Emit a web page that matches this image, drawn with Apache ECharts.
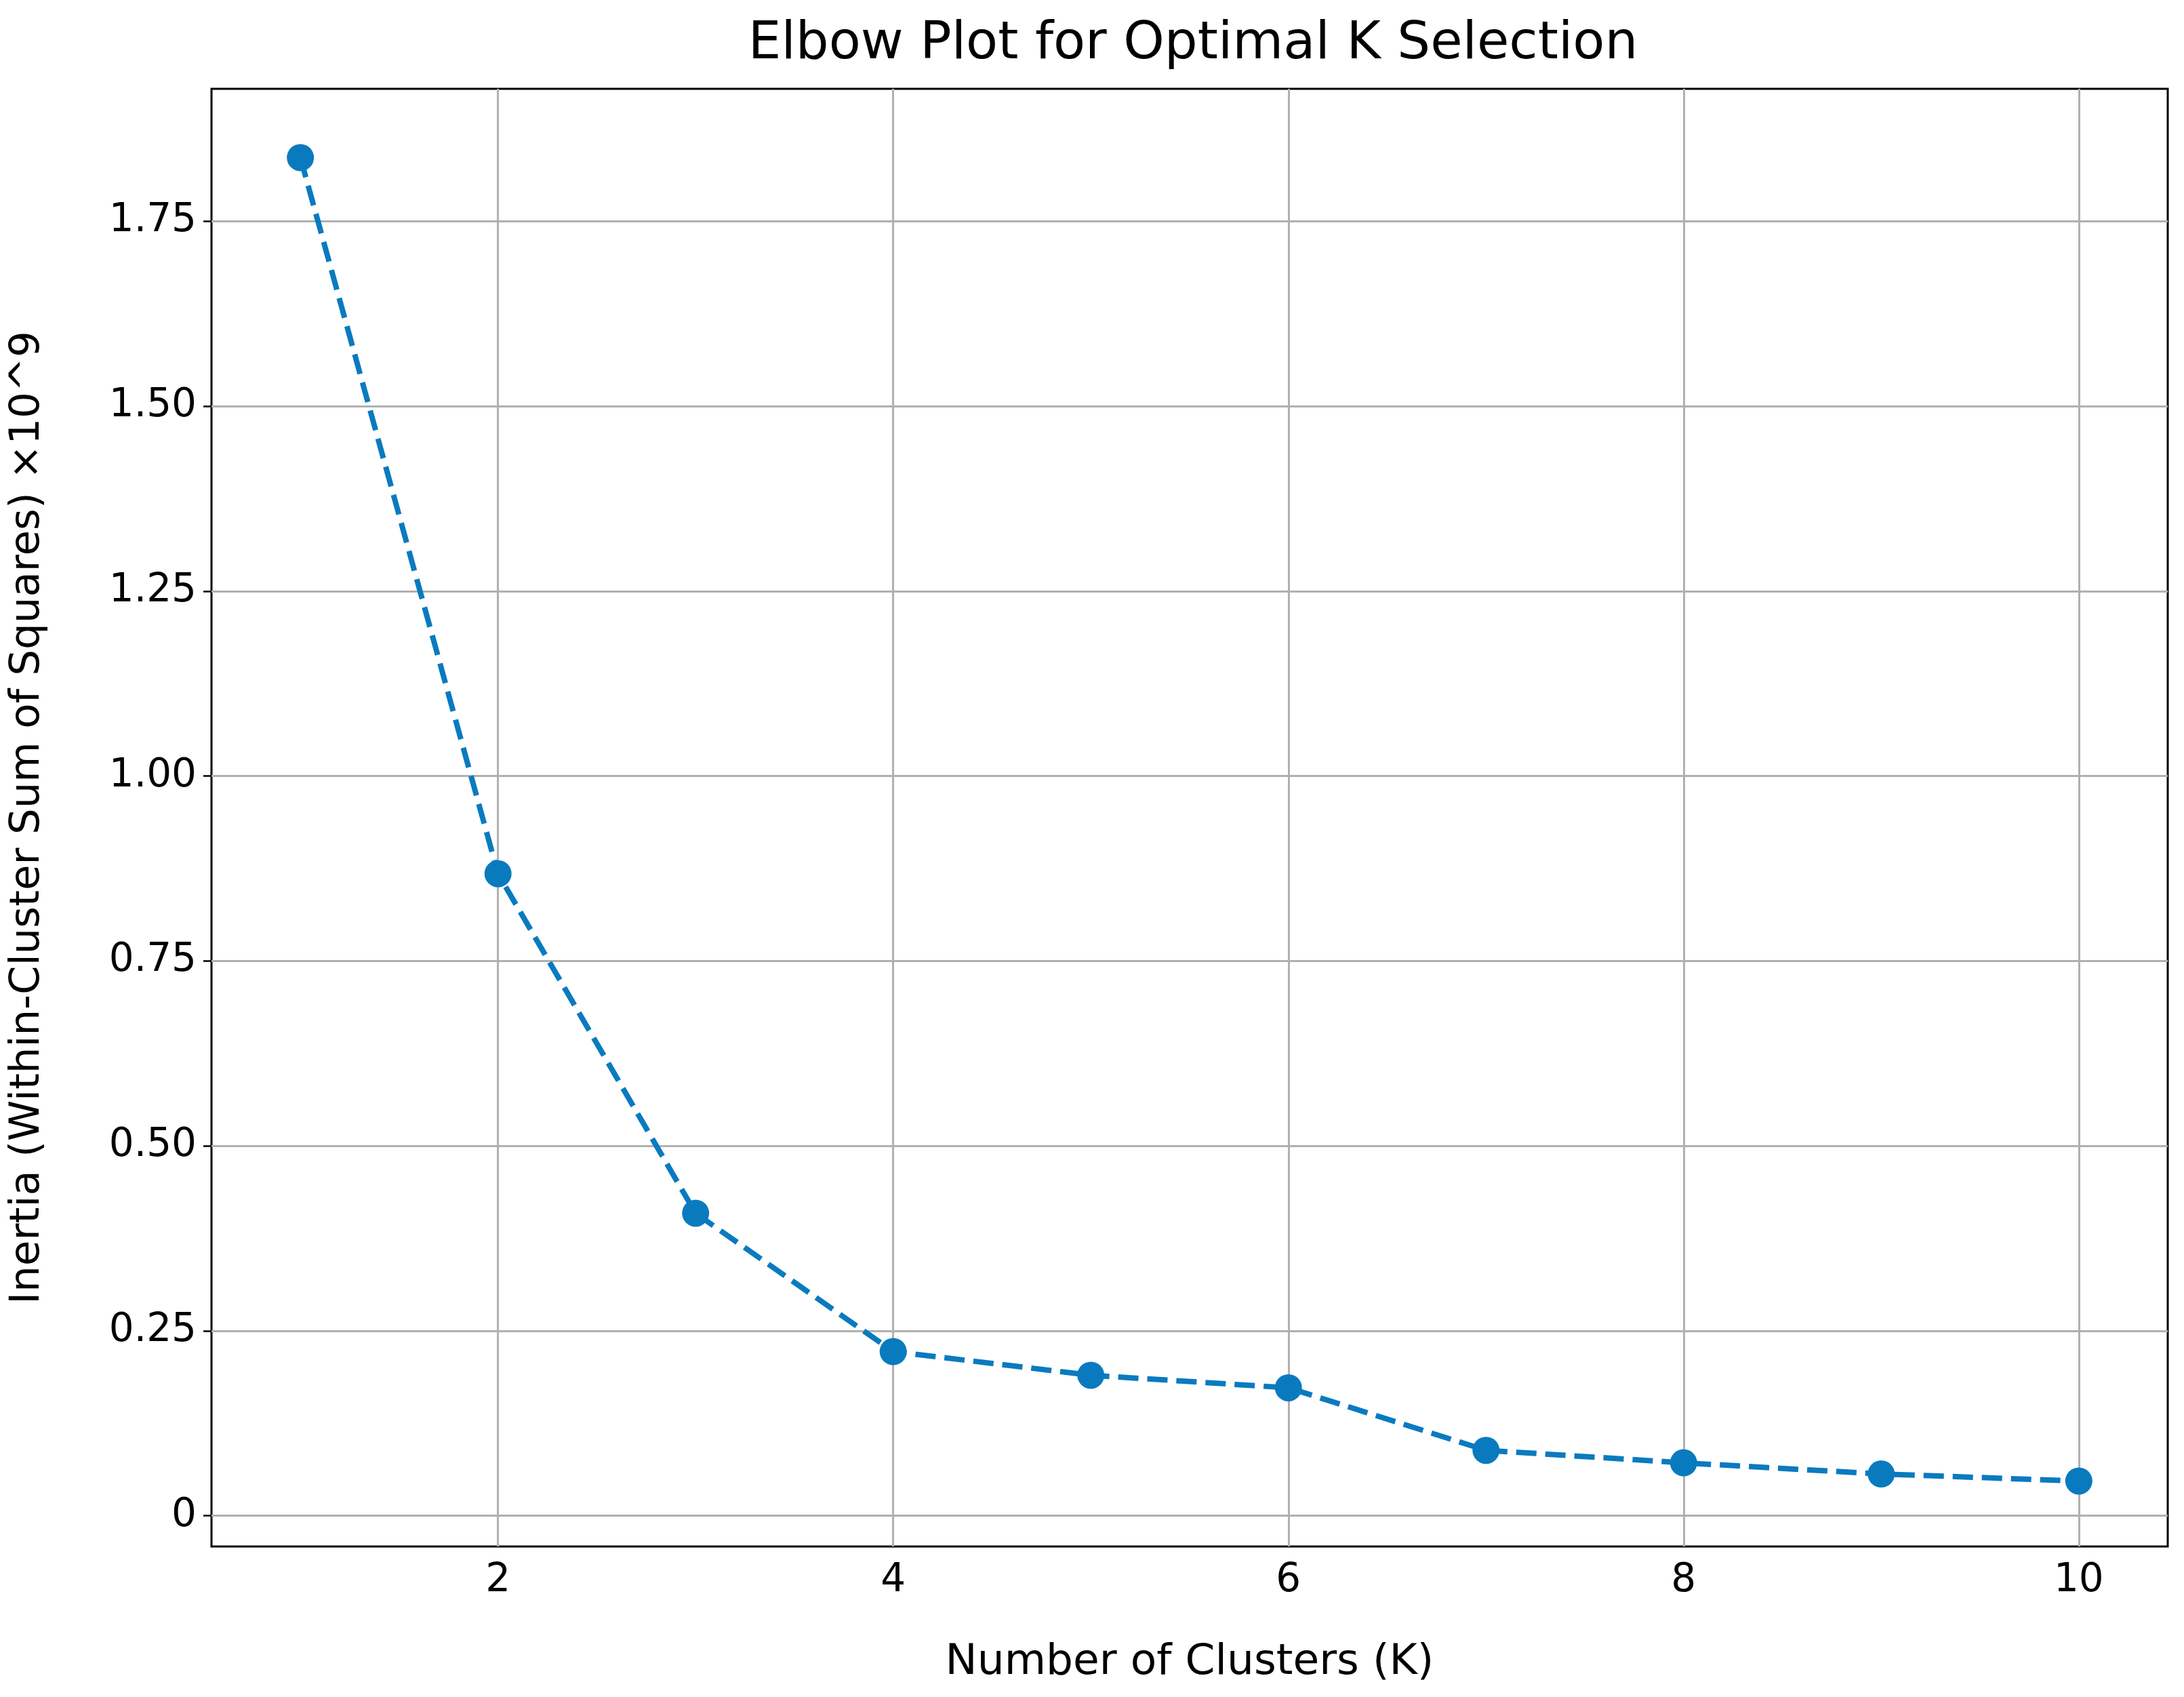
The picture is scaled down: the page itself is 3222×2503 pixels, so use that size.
<!DOCTYPE html>
<html><head><meta charset="utf-8">
<script src="https://cdn.jsdelivr.net/npm/echarts@6/dist/echarts.min.js"></script>
<style>html,body{margin:0;padding:0;background:#fff}#c{width:3222px;height:2503px}</style>
</head><body><div id="c"></div>
<script>
const kValues = [1,2,3,4,5,6,7,8,9,10];
const inertia = [1.836,0.868,0.409,0.222,0.190,0.173,0.0885,0.0716,0.0565,0.047];
const yTicks = [0,0.25,0.5,0.75,1.0,1.25,1.5,1.75];
const xTicks = [2,4,6,8,10];
const font = 'DejaVu Sans';
const chart = echarts.init(document.getElementById('c'));
chart.setOption({
  backgroundColor:'#fff',
  animation:false,
  title:{text:'Elbow Plot for Optimal K Selection',left:1755,textAlign:'center',top:22,
    textStyle:{fontFamily:font,fontSize:77,fontWeight:'normal',color:'#000'}},
  grid:{left:312,right:24,top:131,bottom:222,show:true,borderColor:'#000',borderWidth:3,backgroundColor:'transparent'},
  xAxis:{type:'value',min:0.55,max:10.45,
    name:'Number of Clusters (K)',nameLocation:'middle',nameGap:140,
    nameTextStyle:{fontFamily:font,fontSize:63,color:'#000'},
    axisLine:{show:false},
    axisTick:{show:true,customValues:xTicks,length:12,lineStyle:{color:'#000',width:2.5}},
    axisLabel:{customValues:xTicks,fontFamily:font,fontSize:58,color:'#000',margin:22},
    splitLine:{show:false}},
  yAxis:{type:'value',min:-0.0415,max:1.929,
    name:'Inertia (Within-Cluster Sum of Squares) ×10^9',nameLocation:'middle',nameGap:240,
    nameTextStyle:{fontFamily:font,fontSize:61,color:'#000'},
    axisLine:{show:false},
    axisTick:{show:true,customValues:yTicks,length:12,lineStyle:{color:'#000',width:2.5}},
    axisLabel:{customValues:yTicks,fontFamily:font,fontSize:58,color:'#000',margin:22,
      formatter:v=>Math.abs(v)<1e-9?'0':v.toFixed(2)},
    splitLine:{show:false}},
  series:[
    {type:'line',data:kValues.map((k,i)=>[k,inertia[i]]),symbol:'circle',symbolSize:40,
     itemStyle:{color:'#0a7abf'},lineStyle:{color:'#0a7abf',width:8,type:[30,13]},z:5},
    {type:'line',data:[],markLine:{silent:true,symbol:'none',label:{show:false},
      lineStyle:{color:'#b0b0b0',width:3,type:'solid'},
      data:[...yTicks.map(v=>({yAxis:v})),...xTicks.map(v=>({xAxis:v}))]},z:1}
  ]
});
</script></body></html>
